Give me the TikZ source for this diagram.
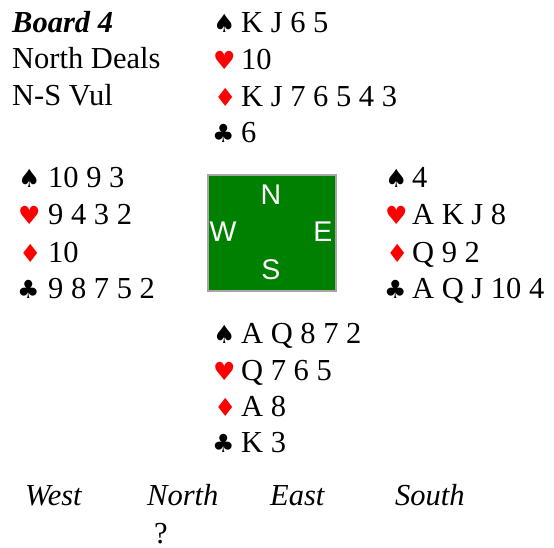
\documentclass[tikz,border=0pt]{standalone}
\usepackage{fontspec}
\setmainfont{Liberation Serif}
\newfontfamily\suitfont{DejaVu Sans}
\newfontfamily\compassfont{Liberation Sans}
\definecolor{feltgreen}{HTML}{008000}
\definecolor{feltedge}{HTML}{A6A6A6}
\definecolor{redsuit}{HTML}{FF0000}
\tikzset{
  txt/.style={anchor=base west, inner sep=0pt, font=\fontsize{30.5}{36}\selectfont},
  suit/.style={anchor=base west, inner sep=0pt, font=\suitfont\fontsize{25}{30}\selectfont},
  blacksuit/.style={suit, text=black},
  redsuitstyle/.style={suit, text=redsuit},
  compass/.style={anchor=center, inner sep=0pt, text=white, font=\compassfont\fontsize{28.5}{32}\selectfont},
  bid/.style={txt, font=\fontsize{30.5}{36}\selectfont\itshape}
}
\begin{document}
\begin{tikzpicture}[x=1pt, y=-1pt]
\useasboundingbox (0,0) rectangle (554,548);

% board header
\node[txt, font=\fontsize{30.5}{36}\selectfont\bfseries\itshape] (board) at (12,33) {Board 4};
\node[txt] (dealer) at (12,69) {North Deals};
\node[txt] (vul) at (12,106) {N-S Vul};

% North hand
\node[blacksuit] (ns) at (213,33) {♠};
\node[redsuitstyle] (nh) at (213,70) {♥};
\node[redsuitstyle] (nd) at (214,107) {♦};
\node[blacksuit] (nc) at (212,143) {♣};
\node[txt] (nst) at (241,33) {K J 6 5};
\node[txt] (nht) at (241,70) {10};
\node[txt] (ndt) at (241,107) {K J 7 6 5 4 3};
\node[txt] (nct) at (241,143) {6};

% West hand
\node[blacksuit] (ws) at (18,188) {♠};
\node[redsuitstyle] (wh) at (18,225) {♥};
\node[redsuitstyle] (wd) at (19,262) {♦};
\node[blacksuit] (wc) at (17,298) {♣};
\node[txt] (wst) at (48,188) {10 9 3};
\node[txt] (wht) at (48,225) {9 4 3 2};
\node[txt] (wdt) at (48,262) {10};
\node[txt] (wct) at (48,298) {9 8 7 5 2};

% East hand
\node[blacksuit] (es) at (385,188) {♠};
\node[redsuitstyle] (eh) at (385,225) {♥};
\node[redsuitstyle] (ed) at (386,262) {♦};
\node[blacksuit] (ec) at (384,298) {♣};
\node[txt] (est) at (412,188) {4};
\node[txt] (eht) at (412,225) {A K J 8};
\node[txt] (edt) at (412,262) {Q 9 2};
\node[txt] (ect) at (412,298) {A Q J 10 4};

% South hand
\node[blacksuit] (ss) at (213,343) {♠};
\node[redsuitstyle] (sh) at (213,380) {♥};
\node[redsuitstyle] (sd) at (214,416) {♦};
\node[blacksuit] (sc) at (212,452) {♣};
\node[txt] (sst) at (241,343) {A Q 8 7 2};
\node[txt] (sht) at (241,380) {Q 7 6 5};
\node[txt] (sdt) at (241,416) {A 8};
\node[txt] (sct) at (241,452) {K 3};

% table
\node[draw=feltedge, line width=2pt, fill=feltgreen, minimum width=128pt, minimum height=116pt, inner sep=0pt, anchor=north west] (table) at (207,174) {};
\node[compass] (cn) at (271,195) {N};
\node[compass] (cw) at (223,232) {W};
\node[compass] (ce) at (323,232) {E};
\node[compass] (cs) at (271,270) {S};

% auction
\node[bid] (bw) at (25,505) {West};
\node[bid] (bn) at (147,505) {North};
\node[bid] (be) at (270,505) {East};
\node[bid] (bs) at (395,505) {South};
\node[txt] (q) at (154,543) {?};
\end{tikzpicture}
\end{document}
